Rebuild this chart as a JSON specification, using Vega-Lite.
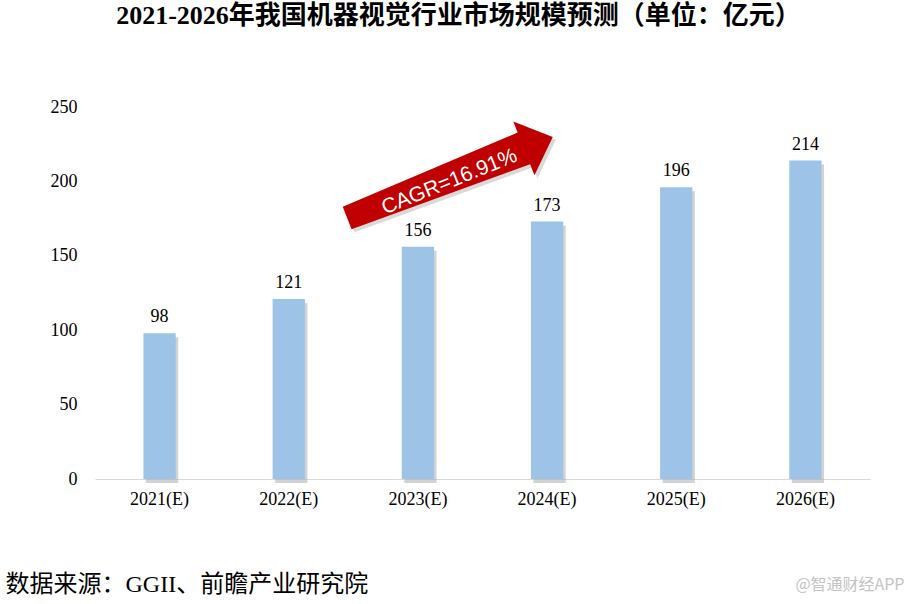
{
  "$schema": "https://vega.github.io/schema/vega-lite/v6.json",
  "width": 775,
  "height": 372,
  "autosize": {"type": "none"},
  "padding": {"left": 95, "top": 107, "right": 38, "bottom": 125},
  "background": "white",
  "config": {"view": {"stroke": null}},
  "title": {
    "text": "2021-2026年我国机器视觉行业市场规模预测（单位：亿元）",
    "font": "Liberation Serif, Noto Sans CJK SC",
    "fontSize": 26,
    "fontWeight": "bold",
    "color": "#000000",
    "anchor": "middle",
    "dx": -24,
    "offset": 43,
    "baseline": "bottom"
  },
  "datasets": {
    "bars": [
      {"year": "2021(E)", "v": 98},
      {"year": "2022(E)", "v": 121},
      {"year": "2023(E)", "v": 156},
      {"year": "2024(E)", "v": 173},
      {"year": "2025(E)", "v": 196},
      {"year": "2026(E)", "v": 214}
    ],
    "arrow": [
      {"pos": 2.748, "v": 202.6, "label": "CAGR=16.91%"}
    ]
  },
  "encoding": {
    "y": {
      "field": "v",
      "type": "quantitative",
      "scale": {"domain": [0, 250], "nice": false, "zero": true},
      "axis": {
        "values": [0, 50, 100, 150, 200, 250],
        "grid": false,
        "ticks": false,
        "domain": false,
        "labelPadding": 18,
        "labelFont": "Liberation Serif",
        "labelFontSize": 18,
        "labelColor": "#000000",
        "labelBaseline": "middle",
        "title": "@智通财经APP",
        "titleAngle": 0,
        "titleX": 809,
        "titleY": 482,
        "titleAlign": "right",
        "titleBaseline": "alphabetic",
        "titleFont": "Noto Sans CJK SC",
        "titleFontSize": 16,
        "titleFontWeight": "normal",
        "titleColor": "#c4c4c4"
      }
    }
  },
  "layer": [
    {
      "data": {"name": "bars"},
      "encoding": {
        "x": {
          "field": "year",
          "type": "nominal",
          "sort": null,
          "scale": {"paddingInner": 0.75, "paddingOuter": 0.375},
          "axis": {
            "labelAngle": 0,
            "ticks": false,
            "domainColor": "#d9d9d9",
            "domainWidth": 1,
            "labelPadding": 11,
            "labelFont": "Liberation Serif",
            "labelFontSize": 18,
            "labelColor": "#000000",
            "title": "数据来源：GGII、前瞻产业研究院",
            "titleX": -90,
            "titleY": 112,
            "titleAlign": "left",
            "titleAnchor": "start",
            "titleBaseline": "alphabetic",
            "titleFont": "Liberation Serif, Noto Sans CJK SC",
            "titleFontSize": 24,
            "titleFontWeight": "normal",
            "titleColor": "#000000"
          }
        }
      },
      "layer": [
        {"mark": {"type": "bar", "color": "#a8a8a8", "opacity": 0.5, "xOffset": 2.5, "yOffset": 4}},
        {"mark": {"type": "bar", "color": "#9DC3E6"}},
        {
          "mark": {"type": "text", "font": "Liberation Serif", "fontSize": 18, "color": "#000000", "baseline": "alphabetic", "dy": -11},
          "encoding": {"text": {"field": "v", "type": "quantitative"}}
        }
      ]
    },
    {
      "data": {"name": "arrow"},
      "encoding": {
        "x": {
          "field": "pos",
          "type": "quantitative",
          "scale": {"domain": [0, 6], "nice": false, "zero": false},
          "axis": null
        }
      },
      "layer": [
        {"mark": {"type": "point", "shape": "M-1,-0.109L0.719,-0.154L0.719,-0.262L1,0L0.719,0.262L0.719,0.154L-1,0.109Z", "size": 48841, "angle": 338.5, "filled": true, "color": "#808080", "opacity": 0.3, "strokeWidth": 0, "xOffset": 3, "yOffset": 3}},
        {"mark": {"type": "point", "shape": "M-1,-0.109L0.719,-0.154L0.719,-0.262L1,0L0.719,0.262L0.719,0.154L-1,0.109Z", "size": 48841, "angle": 338.5, "filled": true, "color": "#C00000", "opacity": 1, "strokeWidth": 0}},
        {
          "mark": {"type": "text", "font": "Liberation Sans", "fontSize": 21, "color": "#ffffff", "angle": 338, "align": "center", "baseline": "middle", "dx": -2, "dy": 4},
          "encoding": {"text": {"field": "label", "type": "nominal"}}
        }
      ]
    }
  ],
  "resolve": {"scale": {"x": "independent"}, "axis": {"x": "independent"}}
}
